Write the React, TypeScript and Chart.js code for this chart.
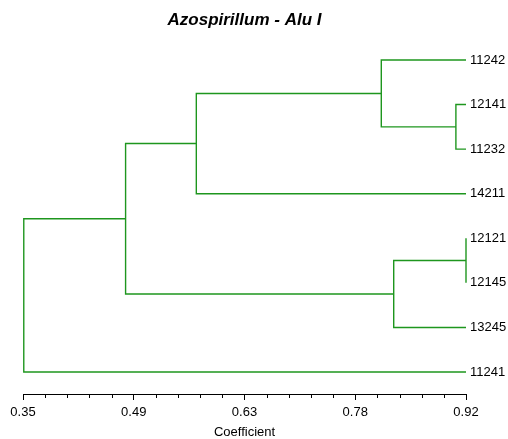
import React, { useEffect, useRef } from "react";
import { Chart, registerables } from "chart.js";

Chart.register(...registerables);

// Leaves, top to bottom
const leafLabels = ["11242", "12141", "11232", "14211", "12121", "12145", "13245", "11241"];
// Merges: [childA, childB, coefficient]; new cluster ids start at leafLabels.length
const mergeLeft = [1, 4, 0, 6, 3, 11, 7];
const mergeRight = [2, 5, 8, 9, 10, 12, 13];
const mergeHeight = [0.907, 0.92, 0.811, 0.827, 0.573, 0.482, 0.351];
// Axis
const majorTicks = [0.35, 0.4925, 0.635, 0.7775, 0.92];
const majorTickLabels = ["0.35", "0.49", "0.63", "0.78", "0.92"];
const minorPerMajor = 4;

const GREEN = "#1e961e";
const FONT = "'Liberation Sans', Arial, sans-serif";

function buildSegments() {
  const n = leafLabels.length;
  const ys: number[] = leafLabels.map((_, i) => i);
  const hs: number[] = leafLabels.map(() => majorTicks[majorTicks.length - 1]);
  const sets: { x: number; y: number }[][] = [];
  for (let k = 0; k < mergeLeft.length; k++) {
    const a = mergeLeft[k];
    const b = mergeRight[k];
    const h = mergeHeight[k];
    sets.push([
      { x: hs[a], y: ys[a] },
      { x: h, y: ys[a] },
      { x: h, y: ys[b] },
      { x: hs[b], y: ys[b] },
    ]);
    ys[n + k] = (ys[a] + ys[b]) / 2;
    hs[n + k] = h;
  }
  return sets;
}

const minorTickPlugin = {
  id: "minorTicks",
  afterDraw(chart: any) {
    const sc = chart.scales.x;
    const ctx = chart.ctx;
    const yb = chart.chartArea.bottom;
    ctx.save();
    ctx.strokeStyle = "#000";
    ctx.lineWidth = 1;
    sc.ticks.forEach((t: any, i: number) => {
      if (i % (minorPerMajor + 1) === 0) return;
      const px = Math.round(sc.getPixelForValue(t.value)) + 0.5;
      ctx.beginPath();
      ctx.moveTo(px, yb);
      ctx.lineTo(px, yb + 4);
      ctx.stroke();
    });
    ctx.restore();
  },
};

export default function App() {
  const ref = useRef<HTMLCanvasElement | null>(null);
  useEffect(() => {
    if (!ref.current) return;
    const segs = buildSegments();
    const chart = new Chart(ref.current, {
      type: "line",
      data: {
        datasets: segs.map((s) => ({
          data: s,
          borderColor: GREEN,
          borderWidth: 1.4,
          pointRadius: 0,
          tension: 0,
          fill: false,
          clip: 3,
        })),
      },
      options: {
        animation: false,
        responsive: false,
        layout: { padding: { left: 23, right: 0, top: 0, bottom: 0 } },
        plugins: {
          legend: { display: false },
          tooltip: { enabled: false },
          title: {
            display: true,
            text: "Azospirillum - Alu I",
            fullSize: false,
            color: "#000",
            font: { family: FONT, size: 17, weight: "bold", style: "italic" },
            padding: { top: 10, bottom: 4.4 },
          },
        },
        scales: {
          x: {
            type: "linear",
            min: majorTicks[0],
            max: majorTicks[majorTicks.length - 1],
            afterBuildTicks: (scale: any) => {
              const ticks: { value: number }[] = [];
              for (let i = 0; i < majorTicks.length; i++) {
                ticks.push({ value: majorTicks[i] });
                if (i < majorTicks.length - 1) {
                  const step = (majorTicks[i + 1] - majorTicks[i]) / (minorPerMajor + 1);
                  for (let j = 1; j <= minorPerMajor; j++) ticks.push({ value: majorTicks[i] + step * j });
                }
              }
              scale.ticks = ticks;
            },
            afterFit: (scale: any) => {
              scale.height = 45;
            },
            ticks: {
              autoSkip: false,
              maxRotation: 0,
              color: "#000",
              padding: 5,
              font: { family: FONT, size: 13 },
              callback: (_v: any, i: number) =>
                i % (minorPerMajor + 1) === 0 ? majorTickLabels[i / (minorPerMajor + 1)] : "",
            },
            grid: {
              drawOnChartArea: false,
              drawTicks: true,
              tickLength: 6,
              tickColor: (ctx: any) => (ctx.index % (minorPerMajor + 1) === 0 ? "#000" : "rgba(0,0,0,0)"),
            },
            border: { display: true, color: "#000", width: 1 },
            title: {
              display: true,
              text: "Coefficient",
              color: "#000",
              font: { family: FONT, size: 13 },
              padding: { top: 0, bottom: -1.5 },
            },
          },
          y: {
            type: "linear",
            position: "right",
            reverse: true,
            min: -0.5654,
            max: 7.4936,
            afterBuildTicks: (scale: any) => {
              scale.ticks = leafLabels.map((_, i) => ({ value: i }));
            },
            afterFit: (scale: any) => {
              scale.width = 42;
            },
            ticks: {
              autoSkip: false,
              color: "#000",
              padding: 4,
              font: { family: FONT, size: 13 },
              callback: (v: any) => leafLabels[v] ?? "",
            },
            grid: { display: false, drawTicks: false },
            border: { display: false },
          },
        },
      } as any,
      plugins: [minorTickPlugin],
    });
    return () => chart.destroy();
  }, []);
  return (
    <div style={{ position: "fixed", left: 0, top: 0, width: 508, height: 439, background: "#fff" }}>
      <canvas ref={ref} width={508} height={439} style={{ display: "block" }} />
    </div>
  );
}
